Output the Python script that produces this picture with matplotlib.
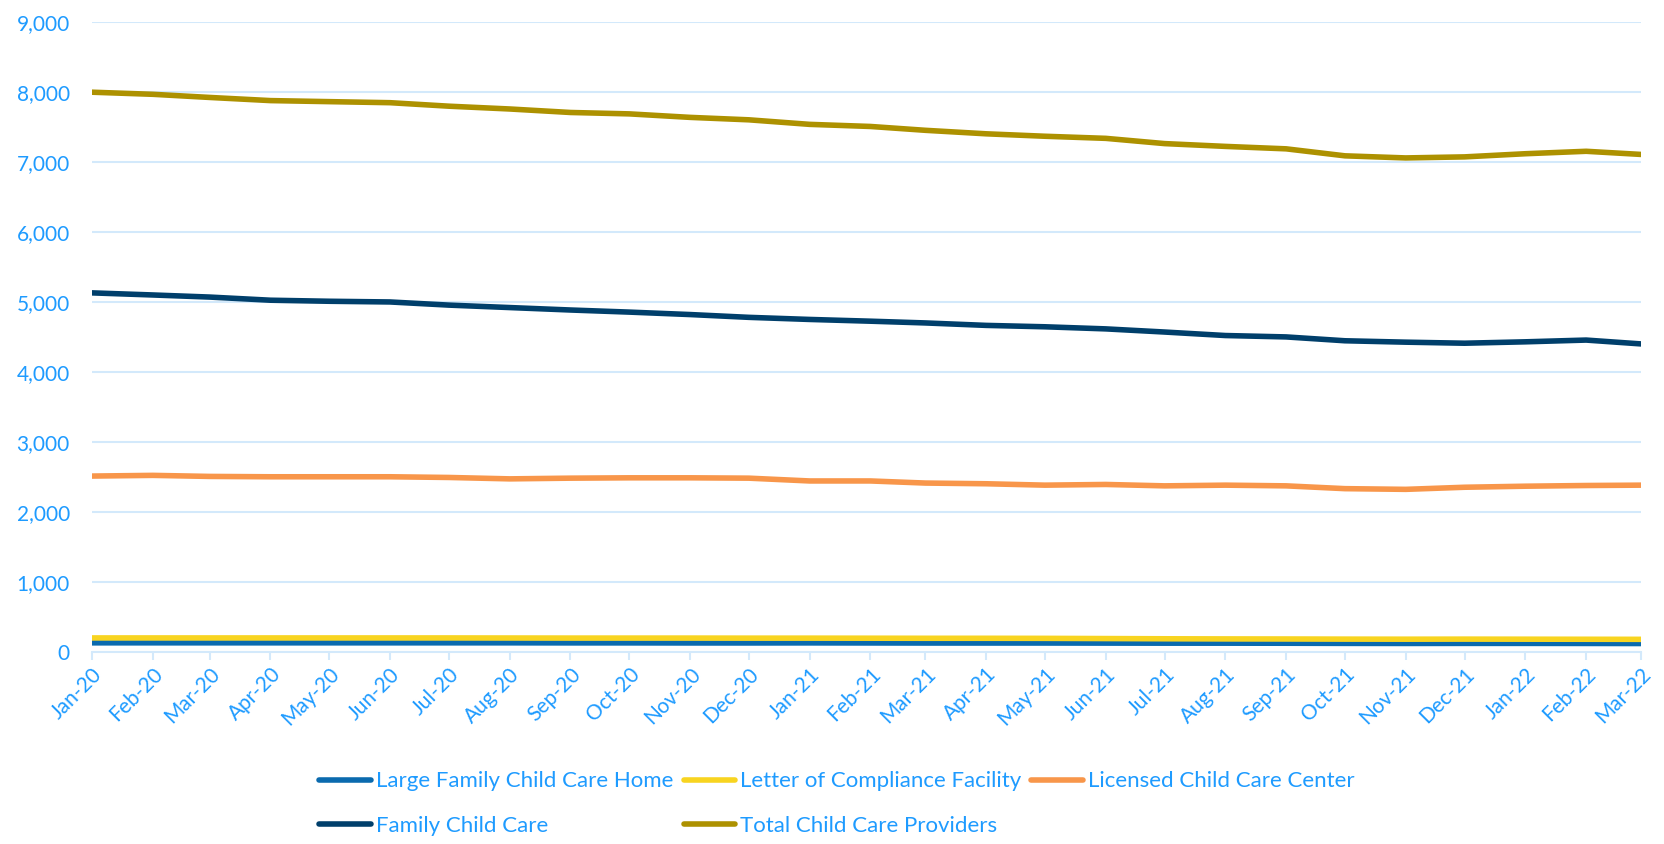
import numpy as np
import matplotlib.pyplot as plt
import matplotlib.dates as mdates
import matplotlib.ticker as mticker
import pandas as pd

plt.rcParams['font.family'] = ['Lato', 'DejaVu Sans']

months = pd.date_range('2020-01-01', '2022-03-01', freq='MS')

large_family = [125, 125, 125, 125, 125, 125, 125, 125, 124, 124, 123, 123, 124,
                123, 122, 122, 122, 121, 120, 120, 119, 117, 116, 117, 117, 116, 115]
letter_compliance = [195, 195, 195, 195, 195, 195, 195, 194, 193, 193, 193, 192, 192,
                     191, 190, 190, 189, 186, 183, 181, 180, 178, 177, 178, 177, 176, 175]
licensed_center = [2510, 2520, 2505, 2500, 2500, 2500, 2490, 2470, 2480, 2485, 2485, 2480, 2440,
                   2440, 2410, 2400, 2380, 2390, 2370, 2380, 2370, 2330, 2320, 2350, 2365, 2375, 2380]
family_child_care = [5130, 5100, 5070, 5025, 5010, 5000, 4955, 4920, 4885, 4855, 4820, 4780, 4750,
                     4725, 4700, 4665, 4645, 4615, 4570, 4520, 4500, 4445, 4425, 4410, 4430, 4455, 4400]
total_providers = [8000, 7970, 7925, 7880, 7865, 7850, 7800, 7760, 7710, 7690, 7640, 7605, 7540,
                   7510, 7455, 7405, 7370, 7340, 7265, 7225, 7190, 7090, 7060, 7075, 7120, 7155, 7110]

series = [
    ('Large Family Child Care Home', large_family, '#0A6AAE'),
    ('Letter of Compliance Facility', letter_compliance, '#F8D420'),
    ('Licensed Child Care Center', licensed_center, '#F8964A'),
    ('Family Child Care', family_child_care, '#003F6B'),
    ('Total Child Care Providers', total_providers, '#AD9100'),
]

text_col = '#1E9BFF'
grid_col = '#D3E9FB'

fig = plt.figure(figsize=(16.64, 8.44), dpi=100)
ax = fig.add_axes([0.0553, 0.228, 0.9309, 0.7456])

handles = []
for name, vals, col in series:
    ln, = ax.plot(months, vals, color=col, lw=4, label=name, solid_capstyle='round',
                  solid_joinstyle='round')
    handles.append(ln)

ax.set_xlim(months[0], months[-1])
ax.set_ylim(0, 9000)
ax.yaxis.set_major_locator(mticker.MultipleLocator(1000))
ax.yaxis.set_major_formatter(mticker.FuncFormatter(lambda v, p: f'{int(v):,}'))
ax.set_xticks(months)
ax.xaxis.set_major_formatter(mdates.DateFormatter('%b-%y'))
plt.setp(ax.get_xticklabels(), rotation=45, ha='right', rotation_mode='anchor')

ax.grid(axis='y', color=grid_col, lw=1.5)
ax.set_axisbelow(True)
for s in ['top', 'right', 'left']:
    ax.spines[s].set_visible(False)
ax.spines['bottom'].set_color(grid_col)
ax.spines['bottom'].set_linewidth(1.5)
ax.tick_params(axis='y', length=0, labelsize=15, labelcolor=text_col, pad=16)
ax.tick_params(axis='x', length=6, width=1.5, color=grid_col, labelsize=15,
               labelcolor=text_col, pad=3)

# legend fills by column, so reorder to read row by row
order = [0, 3, 1, 4, 2]
leg = fig.legend([handles[i] for i in order], [series[i][0] for i in order],
                 ncol=3, loc='upper left', bbox_to_anchor=(0.192, 0.086), frameon=False,
                 fontsize=16, handlelength=2.3, handletextpad=0.25, columnspacing=0.45,
                 labelspacing=1.1, borderpad=0, borderaxespad=0)
for t in leg.get_texts():
    t.set_color(text_col)

fig.savefig('out.png', dpi=100)
